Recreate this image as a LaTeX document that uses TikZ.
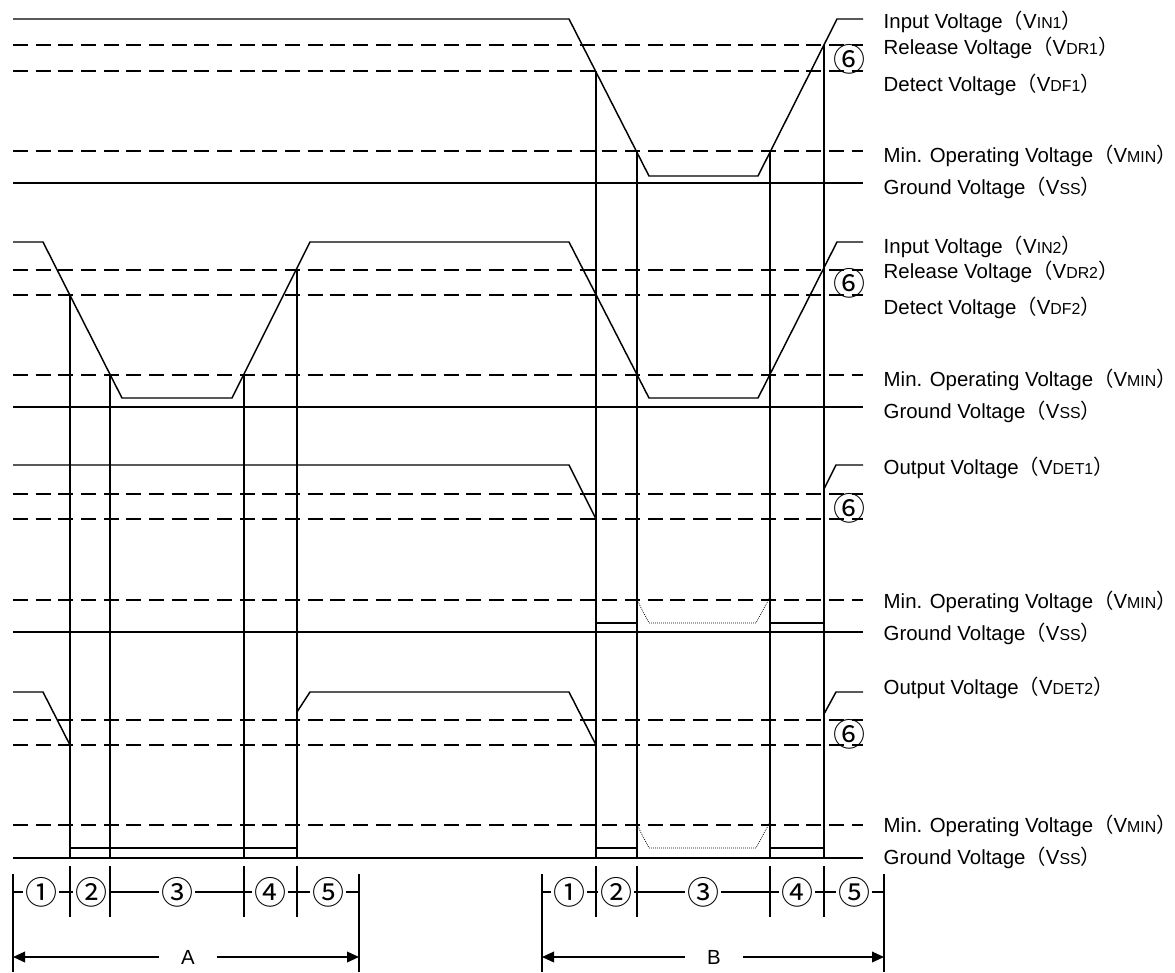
\documentclass[tikz,border=0pt]{standalone}
\usepackage{fontspec}
\setmainfont{Liberation Sans}
\newfontfamily\cjk{Noto Sans CJK SC}
\usetikzlibrary{arrows.meta}
\newcommand{\vlab}[2]{#1{\cjk （}V{\fontsize{11.9pt}{13pt}\selectfont #2}{\cjk ）}}
\begin{document}
\begin{tikzpicture}[x=0.75pt,y=-0.75pt,line width=1.1pt,
  wave/.style={line width=1.1pt,line join=miter},
  dashline/.style={line width=1.1pt,dash pattern=on 11.25pt off 5.75pt},
  dotline/.style={line width=0.6pt,dash pattern=on 0.6pt off 0.9pt},
  lab/.style={anchor=base west,inner sep=0pt,font=\fontsize{15.3pt}{17pt}\selectfont},
  circ/.style={inner sep=0pt,font=\cjk\fontsize{24pt}{25pt}\selectfont},
  circgap/.style={circ,fill=white,inner xsep=1.5pt},
  letgap/.style={anchor=base,fill=white,inner xsep=17pt,inner ysep=2pt,font=\fontsize{15.3pt}{17pt}\selectfont},
  tip/.style={{Triangle[length=9pt,width=8pt]}-{Triangle[length=9pt,width=8pt]}}]
\fill[white] (0,0) rectangle (1175,972);
\useasboundingbox (0,0) rectangle (1175,972);
% dashed reference lines
\foreach \y in {45,71,151,270,295,375,494,519,600,720,745,825}
  \draw[dashline] (13,\y) -- (863,\y);
% ground lines
\foreach \y in {183,407,632,858}
  \draw (13,\y) -- (863,\y);
% panel 1: VIN1
\draw[wave] (13,19) -- (569,19) -- (649,176) -- (758,176) -- (837,19) -- (863,19);
% panel 2: VIN2
\draw[wave] (13,242) -- (43,242) -- (122,398) -- (232,398) -- (310,242) -- (569,242)
  -- (649,398) -- (758,398) -- (837,242) -- (863,242);
% panel 3: VDET1
\draw[wave] (13,465) -- (569,465) -- (596,519);
\draw[wave] (596,623) -- (637,623);
\draw[dotline] (637,600) -- (649,623) -- (756,623) -- (770,597);
\draw[wave] (770,623) -- (824,623);
\draw[wave] (824,489) -- (836,465) -- (863,465);
% panel 4: VDET2
\draw[wave] (13,692) -- (43,692) -- (70,745);
\draw[wave] (70,848) -- (297,848);
\draw[wave] (297,712) -- (310,692) -- (569,692) -- (596,745);
\draw[wave] (596,848) -- (637,848);
\draw[dotline] (637,825) -- (649,848) -- (756,848) -- (770,822);
\draw[wave] (770,848) -- (824,848);
\draw[wave] (824,714) -- (836,692) -- (863,692);
% vertical markers
\draw (70,295) -- (70,858);
\draw (110,375) -- (110,858);
\draw (244,375) -- (244,858);
\draw (297,270) -- (297,858);
\draw (596,71) -- (596,858);
\draw (637,151) -- (637,858);
\draw (770,151) -- (770,858);
\draw (824,45) -- (824,858);
% circled 6
\node[circ] (s1) at (849,59) {⑥};
\node[circ] (s2) at (849,283) {⑥};
\node[circ] (s3) at (849,508) {⑥};
\node[circ] (s4) at (849,734) {⑥};
% labels
\node[lab] (l1) at (883,28) {\vlab{Input Voltage}{IN1}};
\node[lab] (l2) at (883,54) {\vlab{Release Voltage}{DR1}};
\node[lab] (l3) at (883,91) {\vlab{Detect Voltage}{DF1}};
\node[lab] (l4) at (883,162) {\vlab{Min. Operating Voltage}{MIN}};
\node[lab] (l5) at (883,194) {\vlab{Ground Voltage}{SS}};
\node[lab] (m1) at (883,253) {\vlab{Input Voltage}{IN2}};
\node[lab] (m2) at (883,278) {\vlab{Release Voltage}{DR2}};
\node[lab] (m3) at (883,314) {\vlab{Detect Voltage}{DF2}};
\node[lab] (m4) at (883,386) {\vlab{Min. Operating Voltage}{MIN}};
\node[lab] (m5) at (883,418) {\vlab{Ground Voltage}{SS}};
\node[lab] (n1) at (883,474) {\vlab{Output Voltage}{DET1}};
\node[lab] (n4) at (883,608) {\vlab{Min. Operating Voltage}{MIN}};
\node[lab] (n5) at (883,640) {\vlab{Ground Voltage}{SS}};
\node[lab] (o1) at (883,694) {\vlab{Output Voltage}{DET2}};
\node[lab] (o4) at (883,832) {\vlab{Min. Operating Voltage}{MIN}};
\node[lab] (o5) at (883,864) {\vlab{Ground Voltage}{SS}};
% interval row A
\draw (13,874) -- (13,972);
\draw (359,874) -- (359,972);
\foreach \x in {70,110,244,297} \draw (\x,866) -- (\x,917);
\draw (13,892) -- (359,892);
\node[circgap] (a1) at (41,892) {①};
\node[circgap] (a2) at (91,892) {②};
\node[circgap] (a3) at (177,892) {③};
\node[circgap] (a4) at (270,892) {④};
\node[circgap] (a5) at (328,892) {⑤};
% interval row B
\draw (542,874) -- (542,972);
\draw (884,874) -- (884,972);
\foreach \x in {596,637,770,824} \draw (\x,866) -- (\x,917);
\draw (542,892) -- (884,892);
\node[circgap] (b1) at (569,892) {①};
\node[circgap] (b2) at (616,892) {②};
\node[circgap] (b3) at (703,892) {③};
\node[circgap] (b4) at (797,892) {④};
\node[circgap] (b5) at (854,892) {⑤};
% spans
\draw[tip] (13,957) -- (359,957);
\node[letgap] (A) at (188,964) {A};
\draw[tip] (542,957) -- (884,957);
\node[letgap] (B) at (714,964) {B};
\end{tikzpicture}
\end{document}
